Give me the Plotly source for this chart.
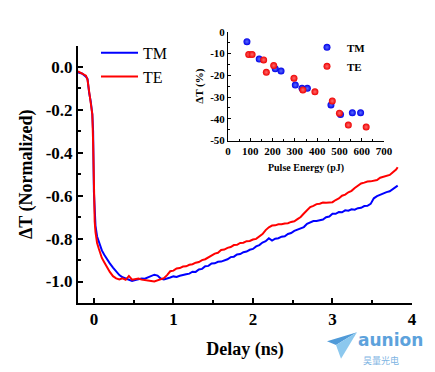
import plotly.graph_objects as go

# ---------------- data ----------------
delay_ns = [-0.20, -0.15, -0.10, -0.08, -0.06, -0.04, -0.02, -0.01, 0.00, 0.01, 0.02, 0.04,
            0.06, 0.08, 0.10, 0.13, 0.16, 0.20, 0.24, 0.28, 0.32, 0.36,
            0.40, 0.44, 0.48, 0.52, 0.56, 0.60, 0.64, 0.68, 0.72, 0.76, 0.80, 0.84, 0.88, 0.92, 0.96,
            1.00, 1.04, 1.08, 1.12, 1.16, 1.20, 1.24, 1.28, 1.32, 1.36, 1.40, 1.44, 1.48, 1.52, 1.56,
            1.60, 1.64, 1.68, 1.72, 1.76, 1.80, 1.84, 1.88, 1.92, 1.96, 2.00, 2.04, 2.08, 2.12, 2.16,
            2.20, 2.24, 2.28, 2.32, 2.36, 2.40, 2.44, 2.48, 2.52, 2.56, 2.60, 2.64, 2.68, 2.72, 2.76,
            2.80, 2.84, 2.88, 2.92, 2.96, 3.00, 3.04, 3.08, 3.12, 3.16, 3.20, 3.24, 3.28, 3.32, 3.36,
            3.40, 3.44, 3.48, 3.52, 3.56, 3.60, 3.64, 3.68, 3.72, 3.76, 3.80, 3.82]

tm_norm = [-0.025, -0.030, -0.045, -0.055, -0.120, -0.160, -0.220, -0.300, -0.580, -0.680, -0.740, -0.790,
           -0.815, -0.840, -0.855, -0.875, -0.895, -0.915, -0.935, -0.955, -0.970, -0.980,
           -0.985, -0.992, -0.997, -0.993, -0.990, -0.986, -0.987, -0.980, -0.976, -0.968, -0.972, -0.986, -0.990, -0.984, -0.981,
           -0.976, -0.979, -0.973, -0.971, -0.966, -0.963, -0.954, -0.955, -0.944, -0.941, -0.929, -0.927, -0.916, -0.915, -0.908,
           -0.907, -0.901, -0.896, -0.886, -0.884, -0.874, -0.872, -0.863, -0.860, -0.852, -0.848, -0.836, -0.830, -0.818, -0.812,
           -0.798, -0.809, -0.800, -0.798, -0.791, -0.789, -0.778, -0.774, -0.764, -0.759, -0.753, -0.746, -0.731, -0.726, -0.718,
           -0.718, -0.713, -0.711, -0.700, -0.697, -0.684, -0.684, -0.676, -0.677, -0.668, -0.670, -0.663, -0.665, -0.658, -0.656,
           -0.648, -0.647, -0.638, -0.612, -0.602, -0.595, -0.591, -0.583, -0.579, -0.568, -0.559, -0.553]

te_norm = [-0.020, -0.030, -0.040, -0.060, -0.120, -0.170, -0.220, -0.350, -0.620, -0.720, -0.770, -0.820,
           -0.845, -0.870, -0.890, -0.910, -0.930, -0.955, -0.975, -0.985, -0.990, -0.985,
           -0.992, -0.974, -0.991, -0.990, -0.986, -0.991, -0.992, -0.996, -0.997, -1.000, -0.994, -0.991, -0.984, -0.970, -0.952,
           -0.949, -0.939, -0.937, -0.930, -0.929, -0.922, -0.919, -0.912, -0.909, -0.900, -0.896, -0.886, -0.880, -0.870, -0.866,
           -0.853, -0.851, -0.843, -0.839, -0.830, -0.829, -0.820, -0.819, -0.812, -0.811, -0.804, -0.801, -0.788, -0.779, -0.760,
           -0.747, -0.739, -0.738, -0.733, -0.733, -0.729, -0.728, -0.722, -0.719, -0.709, -0.699, -0.683, -0.669, -0.653, -0.647,
           -0.639, -0.637, -0.632, -0.633, -0.631, -0.630, -0.620, -0.613, -0.600, -0.595, -0.584, -0.577, -0.564, -0.554, -0.543,
           -0.539, -0.534, -0.533, -0.529, -0.527, -0.516, -0.511, -0.506, -0.503, -0.490, -0.478, -0.467]

tm_energy_pj = [85, 140, 212, 238, 302, 332, 356, 462, 505, 558, 595]
tm_dt_pct = [-4.5, -12.5, -17.0, -18.0, -24.5, -26.0, -26.0, -33.6, -38.0, -37.2, -37.2]

te_energy_pj = [93, 108, 160, 172, 205, 296, 336, 390, 468, 500, 540, 620]
te_dt_pct = [-10.4, -10.4, -12.9, -18.6, -15.5, -21.3, -26.7, -27.6, -31.8, -37.4, -42.9, -43.8]

main_xticks = [0, 1, 2, 3, 4]
main_yticks = [0.0, -0.2, -0.4, -0.6, -0.8, -1.0]
inset_xticks = [0, 100, 200, 300, 400, 500, 600, 700]
inset_yticks = [0, -10, -20, -30, -40, -50]

# ---------------- layout geometry ----------------
# the page body has an 8px margin: the figure is drawn at (8, 8)
OFF = 8
W, H = 435 - OFF, 372 - OFF
L, T = 78 - OFF, 20 - OFF
R = W - (412 - OFF)
B = H - (303 - OFF)
PW, PH = W - L - R, H - T - B


def px(xp, yp):
    """reference-window pixel -> paper coordinate"""
    return (xp - OFF - L) / PW, (H - B - (yp - OFF)) / PH


SERIF = "Liberation Serif"
BLUE = "#0000ff"
RED = "#ff0000"

fig = go.Figure()
fig.add_trace(go.Scatter(x=delay_ns, y=tm_norm, mode="lines", name="TM",
                         line=dict(color=BLUE, width=2), legend="legend"))
fig.add_trace(go.Scatter(x=delay_ns, y=te_norm, mode="lines", name="TE",
                         line=dict(color=RED, width=2), legend="legend"))

fig.add_trace(go.Scatter(x=tm_energy_pj, y=tm_dt_pct, mode="markers", name="<b>TM</b>",
                         xaxis="x2", yaxis="y2", legend="legend2",
                         marker=dict(color="#0000e8", size=7, line=dict(width=0),
                                     gradient=dict(type="radial", color="#5a6cff"))))
fig.add_trace(go.Scatter(x=te_energy_pj, y=te_dt_pct, mode="markers", name="<b>TE</b>",
                         xaxis="x2", yaxis="y2", legend="legend2",
                         marker=dict(color="#ee0000", size=7, line=dict(width=0),
                                     gradient=dict(type="radial", color="#ff6a6a"))))

main_top = px(0, 40)[1]
ix0, iy0 = px(228, 137)
ix1, iy1 = px(384, 26)

axis_common = dict(showline=True, linecolor="black", showgrid=False, zeroline=False,
                   ticks="inside", tickcolor="black")


def bold(vals, fmt="{}"):
    return ["<b>" + fmt.format(v) + "</b>" for v in vals]


fig.update_layout(
    width=W, height=H,
    margin=dict(l=L, r=R, t=T, b=B),
    paper_bgcolor="white", plot_bgcolor="rgba(0,0,0,0)",
    font=dict(family=SERIF, color="black"),
    xaxis=dict(domain=[0, 1], anchor="y", range=[-0.2, 4.0], tickvals=main_xticks,
               ticktext=bold(main_xticks),
               linewidth=2, ticklen=5, tickwidth=1.5,
               minor=dict(dtick=0.5, ticks="inside", ticklen=3, tickcolor="black", tickwidth=1.5),
               tickfont=dict(size=17),
               title=dict(text="<b>Delay (ns)</b>", font=dict(size=18), standoff=14),
               **axis_common),
    yaxis=dict(domain=[0, main_top], anchor="x", range=[-1.1, 0.1], tickvals=main_yticks,
               ticktext=bold(main_yticks, "{:.1f}"),
               linewidth=2, ticklen=5, tickwidth=1.5,
               minor=dict(dtick=0.1, ticks="inside", ticklen=3, tickcolor="black", tickwidth=1.5),
               tickfont=dict(size=17),
               title=dict(text="<b>ΔT (Normalized)</b>", font=dict(size=18), standoff=8),
               **axis_common),
    xaxis2=dict(domain=[ix0, ix1], anchor="y2", range=[0, 700], tickvals=inset_xticks,
                ticktext=bold(inset_xticks),
                linewidth=1, ticklen=3, tickwidth=1,
                minor=dict(dtick=50, ticks="inside", ticklen=2, tickcolor="black"),
                tickfont=dict(size=11),
                title=dict(text="<b>Pulse Energy (pJ)</b>", font=dict(size=10), standoff=8),
                **axis_common),
    yaxis2=dict(domain=[iy0, iy1], anchor="x2", range=[-50, 0], tickvals=inset_yticks,
                ticktext=bold(inset_yticks),
                linewidth=1, ticklen=3, tickwidth=1,
                minor=dict(dtick=5, ticks="inside", ticklen=2, tickcolor="black"),
                tickfont=dict(size=11),
                title=dict(text="<b>ΔT (%)</b>", font=dict(size=11), standoff=4),
                **axis_common),
    legend=dict(x=px(96, 0)[0], y=px(0, 30)[1], xanchor="left", yanchor="top",
                bgcolor="rgba(0,0,0,0)", font=dict(size=16, family=SERIF),
                itemwidth=37, tracegroupgap=0),
    legend2=dict(x=px(307, 0)[0], y=px(0, 27)[1], xanchor="left", yanchor="top",
                 bgcolor="rgba(0,0,0,0)", font=dict(size=11, family=SERIF),
                 tracegroupgap=0),
    showlegend=True,
)

# watermark (logo)
p1 = px(327, 342); p2 = px(357, 333); p3 = px(341, 360); p4 = px(336, 346)
fig.add_shape(type="path", xref="paper", yref="paper",
              path=f"M {p1[0]} {p1[1]} L {p2[0]} {p2[1]} L {p4[0]} {p4[1]} Z",
              fillcolor="#4f9ad8", line=dict(width=0))
fig.add_shape(type="path", xref="paper", yref="paper",
              path=f"M {p4[0]} {p4[1]} L {p2[0]} {p2[1]} L {p3[0]} {p3[1]} Z",
              fillcolor="#8cc8ee", line=dict(width=0))
a1 = px(357, 341)
fig.add_annotation(x=a1[0], y=a1[1], xref="paper", yref="paper", text="<b>aunion</b>",
                   xanchor="left", yanchor="middle", borderpad=0,
                   showarrow=False, font=dict(family="DejaVu Sans", size=17, color="#5da2dc"))
a2 = px(362, 362)
fig.add_annotation(x=a2[0], y=a2[1], xref="paper", yref="paper", text="昊量光电",
                   xanchor="left", yanchor="middle", borderpad=0,
                   showarrow=False, font=dict(family="Noto Sans CJK SC", size=9, color="#7fb5e3"))

fig.write_html("out.html")
